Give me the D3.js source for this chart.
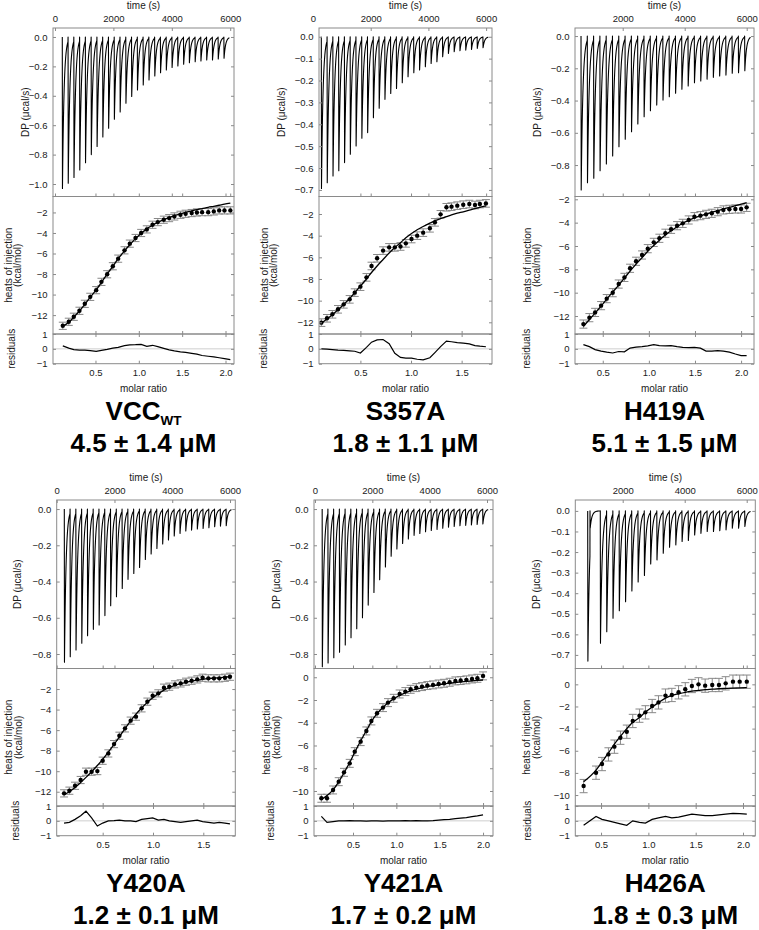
<!DOCTYPE html>
<html><head><meta charset="utf-8">
<script src="https://cdn.jsdelivr.net/npm/d3@7"></script>
<style>
body{margin:0;background:#fff}
text{font-family:"Liberation Sans",Arial,sans-serif}
</style>
</head><body>
<svg id="c" width="759" height="930"></svg>
<script>
// ---------------- DATA ----------------
const titles = ["VCC","S357A","H419A","Y420A","Y421A","H426A"];
const titleSubs = ["WT","","","","",""];
const kdTexts = ["4.5 ± 1.4 μM","1.8 ± 1.1 μM","5.1 ± 1.5 μM","1.2 ± 0.1 μM","1.7 ± 0.2 μM","1.8 ± 0.3 μM"];

const timeTicksA = [0,2000,4000,6000];
const timeTicksB = [2000,4000,6000];
const dpTicksA = [0,-0.2,-0.4,-0.6,-0.8,-1.0];
const dpTicksB = [0,-0.1,-0.2,-0.3,-0.4,-0.5,-0.6,-0.7];
const dpTicksC = [0,-0.2,-0.4,-0.6,-0.8];
const heatTicksA = [-2,-4,-6,-8,-10,-12];
const heatTicksB = [0,-2,-4,-6,-8,-10];
const molarTicksA = [0.5,1.0,1.5,2.0];
const molarTicksB = [0.5,1.0,1.5];
const residTicks = [-1,0,1];

// thermograms: injection times (s) and peak DP (µcal/s)
const dpTime1 = [250,448,645,843,1040,1238,1436,1633,1831,2028,2226,2424,2621,2819,3016,3214,3412,3609,3807,4004,4202,4400,4597,4795,4992,5190,5388,5585,5783];
const dpPeak1 = [-1.03,-0.995,-0.955,-0.905,-0.855,-0.80,-0.745,-0.68,-0.62,-0.56,-0.51,-0.45,-0.405,-0.36,-0.327,-0.293,-0.265,-0.243,-0.225,-0.208,-0.197,-0.186,-0.175,-0.168,-0.163,-0.156,-0.156,-0.15,-0.145];
const dpTime2 = [288,488,688,888,1088,1288,1488,1688,1888,2088,2288,2488,2688,2888,3088,3288,3488,3688,3888,4088,4288,4488,4688,4888,5088,5288,5488,5688,5888];
const dpPeak2 = [-0.693,-0.667,-0.636,-0.612,-0.575,-0.537,-0.499,-0.464,-0.438,-0.37,-0.327,-0.286,-0.259,-0.236,-0.21,-0.183,-0.164,-0.152,-0.137,-0.122,-0.114,-0.091,-0.076,-0.068,-0.064,-0.061,-0.058,-0.053,-0.05];
const dpTime3 = [655,858,1061,1264,1467,1670,1873,2076,2279,2482,2685,2888,3091,3294,3497,3700,3903,4106,4309,4512,4715,4918,5121,5324,5527,5730,5933];
const dpPeak3 = [-0.955,-0.909,-0.882,-0.835,-0.793,-0.744,-0.686,-0.64,-0.593,-0.545,-0.5,-0.463,-0.428,-0.397,-0.376,-0.355,-0.33,-0.31,-0.289,-0.279,-0.267,-0.256,-0.248,-0.242,-0.231,-0.227,-0.215];
const dpTime4 = [263,463,663,863,1063,1263,1463,1663,1863,2063,2263,2463,2663,2863,3063,3263,3463,3663,3863,4063,4263,4463,4663,4863,5063,5263,5463,5663,5863];
const dpPeak4 = [-0.845,-0.815,-0.778,-0.741,-0.699,-0.664,-0.64,-0.588,-0.533,-0.484,-0.438,-0.388,-0.355,-0.322,-0.278,-0.248,-0.217,-0.193,-0.171,-0.149,-0.134,-0.121,-0.116,-0.11,-0.107,-0.103,-0.097,-0.094,-0.092];
const dpTime5 = [250,450,650,850,1050,1250,1450,1650,1850,2050,2250,2450,2650,2850,3050,3250,3450,3650,3850,4050,4250,4450,4650,4850,5050,5250,5450,5650,5850];
const dpPeak5 = [-0.87,-0.85,-0.82,-0.79,-0.75,-0.71,-0.66,-0.60,-0.53,-0.46,-0.39,-0.32,-0.26,-0.22,-0.19,-0.165,-0.145,-0.135,-0.125,-0.118,-0.112,-0.106,-0.1,-0.096,-0.092,-0.09,-0.088,-0.085,-0.082];
const dpTime6 = [871,945,1277,1480,1682,1885,2087,2290,2492,2695,2897,3100,3302,3505,3707,3910,4112,4315,4517,4720,4922,5125,5327,5530,5732,5935];
const dpPeak6 = [-0.73,-0.084,-0.643,-0.587,-0.522,-0.485,-0.441,-0.389,-0.345,-0.314,-0.258,-0.238,-0.206,-0.177,-0.165,-0.149,-0.144,-0.117,-0.109,-0.1,-0.1,-0.096,-0.092,-0.084,-0.084,-0.076];

// integrated heats: molar ratio, heat (kcal/mol), fitted curve, residuals
const molar1 = [0.123,0.192,0.25,0.315,0.377,0.44,0.508,0.569,0.635,0.70,0.762,0.835,0.896,0.962,1.027,1.092,1.158,1.219,1.288,1.35,1.41,1.48,1.54,1.61,1.67,1.73,1.80,1.865,1.927,1.988,2.056];
const heat1 = [-13.04,-12.65,-12.16,-11.58,-10.9,-10.22,-9.57,-8.76,-8.02,-7.24,-6.5,-5.69,-5.04,-4.49,-4.0,-3.65,-3.2,-2.94,-2.71,-2.55,-2.39,-2.23,-2.13,-2.06,-2.0,-1.97,-1.97,-1.9,-1.8,-1.8,-1.8];
const fit1 = [-13.1,-12.7,-12.2,-11.6,-10.95,-10.25,-9.55,-8.8,-8.0,-7.25,-6.5,-5.75,-5.15,-4.55,-4.05,-3.6,-3.25,-2.95,-2.7,-2.5,-2.3,-2.15,-2.0,-1.85,-1.72,-1.62,-1.5,-1.4,-1.3,-1.2,-1.1];
const resid1 = [0.2,0.05,-0.05,-0.08,-0.09,-0.12,-0.17,-0.1,-0.03,0.05,0.1,0.22,0.27,0.28,0.3,0.17,0.24,0.15,0.03,-0.07,-0.14,-0.2,-0.24,-0.3,-0.36,-0.45,-0.5,-0.54,-0.6,-0.66,-0.72];

const molar2 = [0.114,0.17,0.223,0.279,0.335,0.394,0.444,0.5,0.56,0.61,0.665,0.724,0.784,0.84,0.896,0.949,1.005,1.061,1.12,1.186,1.236,1.292,1.35,1.40,1.457,1.516,1.576,1.632,1.68,1.74];
const heat2 = [-12.03,-11.63,-11.26,-10.8,-10.34,-9.88,-9.26,-8.71,-7.85,-6.8,-6.09,-5.38,-5.08,-5.08,-5.0,-4.71,-4.31,-4.0,-3.72,-3.32,-2.77,-2.03,-1.38,-1.32,-1.23,-1.14,-1.08,-1.17,-1.08,-1.02];
const fit2 = [-12.1,-11.7,-11.3,-10.85,-10.35,-9.8,-9.25,-8.65,-8.0,-7.4,-6.8,-6.2,-5.6,-5.1,-4.65,-4.2,-3.8,-3.45,-3.15,-2.85,-2.62,-2.42,-2.25,-2.08,-1.93,-1.8,-1.65,-1.5,-1.38,-1.25];
const resid2 = [0.0,-0.02,-0.05,-0.08,-0.1,-0.13,-0.16,-0.28,0.1,0.45,0.6,0.63,0.35,-0.3,-0.58,-0.62,-0.63,-0.7,-0.74,-0.6,-0.25,0.15,0.52,0.48,0.42,0.38,0.33,0.22,0.18,0.14];

const molar3 = [0.29,0.355,0.417,0.482,0.543,0.608,0.673,0.735,0.796,0.861,0.926,0.988,1.053,1.114,1.179,1.241,1.306,1.367,1.432,1.494,1.559,1.62,1.682,1.747,1.808,1.873,1.938,2.0,2.06];
const heat3 = [-12.69,-12.14,-11.69,-11.11,-10.51,-10.0,-9.26,-8.69,-7.91,-7.31,-6.77,-6.23,-5.69,-5.34,-4.91,-4.57,-4.26,-4.06,-3.77,-3.49,-3.4,-3.29,-3.2,-3.06,-2.91,-2.86,-2.83,-2.83,-2.69];
const fit3 = [-12.9,-12.3,-11.75,-11.15,-10.55,-9.95,-9.35,-8.75,-8.15,-7.55,-7.0,-6.45,-5.95,-5.5,-5.05,-4.7,-4.35,-4.05,-3.8,-3.6,-3.42,-3.26,-3.11,-2.97,-2.83,-2.69,-2.55,-2.42,-2.28];
const resid3 = [0.28,0.15,-0.05,-0.15,-0.22,-0.28,-0.18,-0.2,0.05,0.12,0.15,0.2,0.28,0.22,0.2,0.22,0.15,0.1,0.08,0.1,0.05,-0.15,-0.15,-0.12,-0.15,-0.22,-0.35,-0.45,-0.45];

const molar4 = [0.116,0.169,0.225,0.281,0.334,0.39,0.447,0.5,0.556,0.613,0.666,0.722,0.778,0.831,0.887,0.944,0.997,1.053,1.109,1.162,1.219,1.275,1.328,1.384,1.44,1.493,1.55,1.606,1.659,1.715,1.765];
const heat4 = [-12.16,-11.9,-11.42,-10.86,-10.05,-10.05,-9.99,-8.98,-8.27,-7.36,-6.55,-5.83,-5.08,-4.69,-3.88,-3.23,-2.65,-2.42,-1.87,-1.77,-1.55,-1.45,-1.29,-1.19,-1.06,-0.9,-0.96,-0.96,-0.96,-0.9,-0.8];
const fit4 = [-12.3,-12.0,-11.6,-11.1,-10.6,-10.05,-9.45,-8.85,-8.15,-7.4,-6.65,-5.85,-5.1,-4.45,-3.85,-3.3,-2.85,-2.45,-2.1,-1.85,-1.65,-1.48,-1.35,-1.23,-1.13,-1.05,-0.98,-0.93,-0.88,-0.84,-0.8];
const resid4 = [-0.15,-0.1,0.1,0.35,0.65,0.2,-0.35,-0.15,0.0,0.02,0.05,0.0,0.0,-0.05,0.1,0.15,0.2,0.05,0.1,0.0,-0.05,-0.1,-0.05,0.0,0.05,-0.05,-0.1,-0.15,-0.1,-0.15,-0.2];

const molar5 = [0.135,0.2,0.27,0.335,0.396,0.462,0.52,0.588,0.654,0.712,0.777,0.846,0.904,0.969,1.038,1.104,1.165,1.23,1.296,1.358,1.423,1.488,1.55,1.615,1.681,1.742,1.808,1.873,1.935,2.0];
const heat5 = [-10.64,-10.64,-9.91,-9.18,-8.36,-7.57,-6.54,-5.66,-4.72,-3.84,-3.17,-2.67,-2.23,-1.85,-1.47,-1.26,-1.06,-0.91,-0.82,-0.73,-0.67,-0.59,-0.53,-0.44,-0.32,-0.29,-0.23,-0.15,-0.09,0.12];
const fit5 = [-10.75,-10.4,-9.9,-9.2,-8.4,-7.5,-6.6,-5.6,-4.7,-3.9,-3.2,-2.65,-2.25,-1.9,-1.6,-1.38,-1.2,-1.05,-0.93,-0.83,-0.74,-0.66,-0.59,-0.52,-0.46,-0.41,-0.36,-0.32,-0.28,-0.24];
const resid5 = [0.3,-0.1,-0.05,0.0,0.0,0.02,0.0,0.0,-0.02,0.0,0.0,-0.02,0.0,0.0,0.0,0.02,0.0,0.02,0.0,0.0,0.02,0.05,0.08,0.1,0.15,0.18,0.22,0.28,0.33,0.4];

const molar6 = [0.316,0.447,0.51,0.578,0.641,0.705,0.772,0.835,0.906,0.969,1.04,1.107,1.181,1.248,1.319,1.39,1.46,1.53,1.60,1.675,1.746,1.817,1.894,1.965,2.04];
const heat6 = [-9.19,-7.98,-7.2,-6.33,-5.63,-4.82,-4.28,-3.31,-2.83,-2.53,-1.96,-1.63,-1.02,-0.96,-0.72,-0.45,-0.15,0.0,-0.12,-0.06,-0.06,0.09,0.24,0.24,0.24];
const fit6 = [-8.8,-7.75,-7.0,-6.2,-5.4,-4.7,-4.0,-3.43,-3.0,-2.5,-2.05,-1.65,-1.25,-1.0,-0.85,-0.72,-0.62,-0.55,-0.48,-0.44,-0.4,-0.37,-0.34,-0.32,-0.3];
const resid6 = [-0.3,0.3,0.1,0.0,-0.1,-0.2,-0.3,0.0,-0.1,-0.15,0.1,0.2,0.3,0.2,0.25,0.35,0.45,0.4,0.35,0.35,0.4,0.45,0.5,0.48,0.45];

const heatErr = [0.35,0.35,0.35,0.35,0.35,0.6];

// ---------------- LAYOUT ----------------
const panelData = [
  {t:dpTime1,p:dpPeak1,m:molar1,h:heat1,f:fit1,r:resid1,tt:timeTicksA,dt:dpTicksA,ht:heatTicksA,mt:molarTicksA},
  {t:dpTime2,p:dpPeak2,m:molar2,h:heat2,f:fit2,r:resid2,tt:timeTicksA,dt:dpTicksB,ht:heatTicksA,mt:molarTicksB},
  {t:dpTime3,p:dpPeak3,m:molar3,h:heat3,f:fit3,r:resid3,tt:timeTicksB,dt:dpTicksC,ht:heatTicksA,mt:molarTicksA},
  {t:dpTime4,p:dpPeak4,m:molar4,h:heat4,f:fit4,r:resid4,tt:timeTicksA,dt:dpTicksC,ht:heatTicksA,mt:molarTicksB},
  {t:dpTime5,p:dpPeak5,m:molar5,h:heat5,f:fit5,r:resid5,tt:timeTicksA,dt:dpTicksC,ht:heatTicksB,mt:molarTicksA},
  {t:dpTime6,p:dpPeak6,m:molar6,h:heat6,f:fit6,r:resid6,tt:timeTicksB,dt:dpTicksB,ht:heatTicksB,mt:molarTicksA}
];
const layout = [
  {x0:53,  x1:234,  row:0, tDom:[-68,6130], dpDom:[-1.085,0.061], hDom:[-13.84,-0.447], mDom:[0.01,2.098],  lab:[25,8,17,11]},
  {x0:319, x1:492,  row:0, tDom:[208,6204], dpDom:[-0.73,0.04],   hDom:[-13.08,-0.384], mDom:[0.091,1.80],  lab:[281,264,273,263]},
  {x0:575, x1:754,  row:0, tDom:[461,6235], dpDom:[-0.995,0.05],  hDom:[-13.54,-1.76],  mDom:[0.199,2.14],  lab:[537,527,536,526]},
  {x0:56.7,x1:235.3,row:1, tDom:[0,6183],   dpDom:[-0.88,0.05],   hDom:[-13.39,0.0],    mDom:[0.043,1.818], lab:[17,8,18,15]},
  {x0:314, x1:493,  row:1, tDom:[-35,6209], dpDom:[-0.88,0.05],   hDom:[-11.32,0.77],   mDom:[0.05,2.115],  lab:[276,266,276,270]},
  {x0:575.3,x1:755.3,row:1,tDom:[471,6277], dpDom:[-0.766,0.053], hDom:[-10.99,1.43],   mDom:[0.228,2.13],  lab:[536,526,536,527]}
];
const ROW_DY = 472;
const FRAME = "#8a8a8a", TXT = "#1a1a1a";

const svg = d3.select("#c");
const defs = svg.append("defs");

function thermoPoints(times, peaks){
  const pts = []; const tau = 55, drop = 6;
  for (let i = 0; i < times.length; i++){
    const t0 = times[i], p = peaks[i];
    const tEnd = i < times.length - 1 ? times[i+1] : t0 + 190;
    pts.push([t0, 0]);
    pts.push([t0 + drop, p]);
    for (let d = 3; t0 + drop + d < tEnd; d += 3){
      pts.push([t0 + drop + d, p * Math.exp(-d / tau)]);
    }
  }
  return pts;
}

function styleAxis(g, fs){
  g.select(".domain").remove();
  g.selectAll(".tick line").attr("stroke", FRAME);
  g.selectAll(".tick text").attr("fill", TXT).style("font-size", fs + "px")
    .style("font-family", '"Liberation Sans",Arial,sans-serif');
}
function hideOutside(g, scale, lo, hi){
  g.selectAll(".tick").each(function(d){
    const v = scale(d);
    if (v < lo - 0.5 || v > hi + 0.5) d3.select(this).select("line").remove();
  });
}

const fmt1 = d3.format(".1f"), fmt0 = d3.format("d");
const TS = 9.5; // tick font size

layout.forEach((L, i) => {
  const D = panelData[i];
  const oy = L.row * ROW_DY;
  const yDP = [28 + oy, 196.5 + oy], yH = [196.5 + oy, 334 + oy], yR = [334 + oy, 363.7 + oy];
  const tS = d3.scaleLinear().domain(L.tDom).range([L.x0, L.x1]);
  const mS = d3.scaleLinear().domain(L.mDom).range([L.x0, L.x1]);
  const ydS = d3.scaleLinear().domain(L.dpDom).range([yDP[1], yDP[0]]);
  const yhS = d3.scaleLinear().domain(L.hDom).range([yH[1], yH[0]]);
  const yrS = d3.scaleLinear().domain([-1, 1]).range([yR[1], yR[0]]);
  const g = svg.append("g");
  const W = L.x1 - L.x0;

  [["dp",yDP],["h",yH],["r",yR]].forEach(([k,yy]) => {
    defs.append("clipPath").attr("id", `clip-${k}-${i}`).append("rect")
      .attr("x", L.x0).attr("y", yy[0]).attr("width", W).attr("height", yy[1]-yy[0]);
  });

  // ---- DP thermogram ----
  const tp = thermoPoints(D.t, D.p);
  g.append("path").attr("clip-path", `url(#clip-dp-${i})`)
    .attr("d", d3.line().x(d => tS(d[0])).y(d => ydS(d[1]))(tp))
    .attr("fill", "none").attr("stroke", "#000").attr("stroke-width", 1.1).attr("stroke-linejoin","round");

  // ---- heats ----
  const hg = g.append("g").attr("clip-path", `url(#clip-h-${i})`);
  const err = heatErr[i];
  D.m.forEach((mv, k) => {
    const x = mS(mv), yt = yhS(D.h[k] + err), yb = yhS(D.h[k] - err);
    hg.append("line").attr("x1", x).attr("x2", x).attr("y1", yt).attr("y2", yb).attr("stroke", "#888").attr("stroke-width", 1);
    hg.append("line").attr("x1", x-4).attr("x2", x+4).attr("y1", yt).attr("y2", yt).attr("stroke", "#888").attr("stroke-width", 1);
    hg.append("line").attr("x1", x-4).attr("x2", x+4).attr("y1", yb).attr("y2", yb).attr("stroke", "#888").attr("stroke-width", 1);
  });
  hg.append("path")
    .attr("d", d3.line().curve(d3.curveMonotoneX).x((d,k) => mS(D.m[k])).y(d => yhS(d))(D.f))
    .attr("fill", "none").attr("stroke", "#000").attr("stroke-width", 1.3);
  hg.selectAll("circle.pt").data(D.h).join("circle")
    .attr("cx", (d,k) => mS(D.m[k])).attr("cy", d => yhS(d)).attr("r", 2.2).attr("fill", "#000");

  // ---- residuals ----
  const rg = g.append("g").attr("clip-path", `url(#clip-r-${i})`);
  rg.append("line").attr("x1", L.x0).attr("x2", L.x1).attr("y1", yrS(0)).attr("y2", yrS(0))
    .attr("stroke", "#cfcfcf").attr("stroke-width", 1);
  rg.append("path")
    .attr("d", d3.line().x((d,k) => mS(D.m[k])).y(d => yrS(d))(D.r))
    .attr("fill", "none").attr("stroke", "#000").attr("stroke-width", 1.2);

  // ---- frames ----
  [yDP, yH, yR].forEach(yy => {
    g.append("rect").attr("x", L.x0).attr("y", yy[0]).attr("width", W).attr("height", yy[1]-yy[0])
      .attr("fill", "none").attr("stroke", FRAME).attr("stroke-width", 1);
  });

  // ---- axes ----
  const gt = g.append("g").attr("transform", `translate(0,${yDP[0]})`)
    .call(d3.axisTop(tS).tickValues(D.tt).tickFormat(fmt0).tickSizeInner(-3).tickSizeOuter(0).tickPadding(6.5));
  styleAxis(gt, TS); hideOutside(gt, tS, L.x0, L.x1);
  const gtb = g.append("g").attr("transform", `translate(0,${yDP[1]})`)
    .call(d3.axisBottom(tS).tickValues(D.tt).tickFormat("").tickSizeInner(-3).tickSizeOuter(0));
  styleAxis(gtb, TS); hideOutside(gtb, tS, L.x0, L.x1);
  const gdl = g.append("g").attr("transform", `translate(${L.x0},0)`)
    .call(d3.axisLeft(ydS).tickValues(D.dt).tickFormat(fmt1).tickSizeInner(-3).tickSizeOuter(0).tickPadding(5.5));
  styleAxis(gdl, TS);
  const gdr = g.append("g").attr("transform", `translate(${L.x1},0)`)
    .call(d3.axisRight(ydS).tickValues(D.dt).tickFormat("").tickSizeInner(-3).tickSizeOuter(0));
  styleAxis(gdr, TS);
  const ghl = g.append("g").attr("transform", `translate(${L.x0},0)`)
    .call(d3.axisLeft(yhS).tickValues(D.ht).tickFormat(fmt0).tickSizeInner(-3).tickSizeOuter(0).tickPadding(5.5));
  styleAxis(ghl, TS);
  const ghr = g.append("g").attr("transform", `translate(${L.x1},0)`)
    .call(d3.axisRight(yhS).tickValues(D.ht).tickFormat("").tickSizeInner(-3).tickSizeOuter(0));
  styleAxis(ghr, TS);
  [[yH[0], "b"], [yH[1], "t"], [yR[0], "b"]].forEach(([yy, dir]) => {
    const ax = dir === "b" ? d3.axisBottom(mS) : d3.axisTop(mS);
    const gg = g.append("g").attr("transform", `translate(0,${yy})`)
      .call(ax.tickValues(D.mt).tickFormat("").tickSizeInner(-3).tickSizeOuter(0));
    styleAxis(gg, TS);
  });
  const grl = g.append("g").attr("transform", `translate(${L.x0},0)`)
    .call(d3.axisLeft(yrS).tickValues(residTicks).tickFormat(fmt0).tickSizeInner(-3).tickSizeOuter(0).tickPadding(5.5));
  styleAxis(grl, TS);
  const grr = g.append("g").attr("transform", `translate(${L.x1},0)`)
    .call(d3.axisRight(yrS).tickValues(residTicks).tickFormat("").tickSizeInner(-3).tickSizeOuter(0));
  styleAxis(grr, TS);
  const gmb = g.append("g").attr("transform", `translate(0,${yR[1]})`)
    .call(d3.axisBottom(mS).tickValues(D.mt).tickFormat(fmt1).tickSizeInner(-3).tickSizeOuter(0).tickPadding(5.5));
  styleAxis(gmb, TS);

  // ---- axis titles ----
  const cx = (L.x0 + L.x1) / 2;
  const LS = 10;
  g.append("text").attr("x", cx).attr("y", 9 + oy).attr("text-anchor", "middle")
    .attr("fill", TXT).style("font-size", LS + "px").text("time (s)");
  g.append("text").attr("x", cx).attr("y", 391.5 + oy).attr("text-anchor", "middle")
    .attr("fill", TXT).style("font-size", LS + "px").text("molar ratio");
  const vlab = (x, y, s) => g.append("text").attr("transform", `translate(${x},${y}) rotate(-90)`)
    .attr("text-anchor", "middle").attr("dominant-baseline", "central")
    .attr("fill", TXT).style("font-size", LS + "px").text(s);
  vlab(L.lab[0], (yDP[0] + yDP[1]) / 2, "DP (μcal/s)");
  vlab(L.lab[1], (yH[0] + yH[1]) / 2, "heats of injection");
  vlab(L.lab[2], (yH[0] + yH[1]) / 2, "(kcal/mol)");
  vlab(L.lab[3], (yR[0] + yR[1]) / 2, "residuals");

  // ---- titles ----
  const t1 = g.append("text").attr("x", cx).attr("y", 420 + oy).attr("text-anchor", "middle")
    .attr("fill", "#000").style("font-size", "26px").style("font-weight", "bold");
  t1.append("tspan").text(titles[i]);
  if (titleSubs[i]) t1.append("tspan").attr("dy", 5).style("font-size", "13.5px").text(titleSubs[i]);
  g.append("text").attr("x", cx).attr("y", 452 + oy).attr("text-anchor", "middle")
    .attr("fill", "#000").style("font-size", "26px").style("font-weight", "bold").text(kdTexts[i]);
});
</script>
</body></html>
